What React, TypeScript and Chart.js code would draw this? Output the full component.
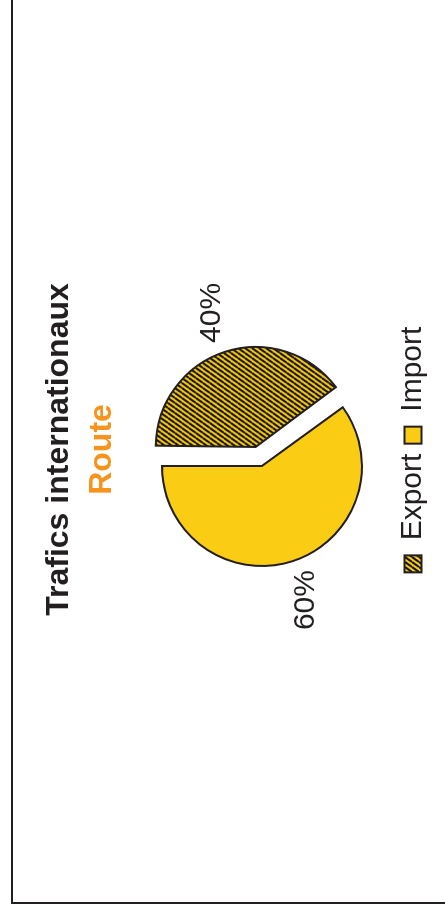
import React, { useEffect, useRef } from "react";
import { Chart, registerables } from "chart.js";

Chart.register(...registerables);

const titleText = "Trafics internationaux";
const subtitleText = "Route";
const categories = ["Export", "Import"];
const values = [40, 60];
const sliceOffsets = [80, 0];

const RADIUS = 100;
const YELLOW = "#FBCC14";
const DARK = "#231f20";
const ORANGE = "#F7941D";
const FONT = "'Liberation Sans', Arial, sans-serif";

function makeHatch(): CanvasPattern | string {
  const a = 5;
  const b = 7;
  const c = document.createElement("canvas");
  c.width = a;
  c.height = b;
  const g = c.getContext("2d");
  if (!g) return YELLOW;
  g.fillStyle = YELLOW;
  g.fillRect(0, 0, a, b);
  g.strokeStyle = "#111111";
  g.lineWidth = 2.1;
  for (let k = -1; k <= 1; k++) {
    g.beginPath();
    g.moveTo(k * a, b);
    g.lineTo(k * a + a, 0);
    g.stroke();
  }
  const p = g.createPattern(c, "repeat");
  return p || YELLOW;
}

// Chart.js enlarges an offset slice's radius; undo that so all slices share one radius.
const keepRadius = {
  id: "keepRadius",
  afterDatasetsUpdate(chart: any) {
    const meta = chart.getDatasetMeta(0);
    meta.data.forEach((arc: any, i: number) => {
      const trans = (sliceOffsets[i] || 0) / 4;
      const circ = arc.circumference || 0;
      const fix = 1 - Math.sin(Math.min(Math.PI, circ));
      arc.outerRadius = RADIUS - trans * fix;
    });
  },
};

const percentLabels = {
  id: "percentLabels",
  afterDatasetsDraw(chart: any) {
    const ctx = chart.ctx;
    const meta = chart.getDatasetMeta(0);
    const ds = chart.data.datasets[0];
    const total = (ds.data as number[]).reduce((s, v) => s + v, 0);
    ctx.save();
    ctx.font = `30px ${FONT}`;
    ctx.fillStyle = DARK;
    ctx.textAlign = "center";
    ctx.textBaseline = "middle";
    meta.data.forEach((arc: any, i: number) => {
      const { x, y, startAngle, endAngle } = arc;
      const trans = (sliceOffsets[i] || 0) / 4;
      const mid = (startAngle + endAngle) / 2;
      const r = trans + RADIUS + 41;
      const txt = Math.round((ds.data[i] / total) * 100) + "%";
      ctx.fillText(txt, x + Math.cos(mid) * r, y + Math.sin(mid) * r);
    });
    ctx.restore();
  },
};

const shiftArea = {
  id: "shiftArea",
  afterLayout(chart: any) {
    chart.chartArea.left -= 16.5;
    chart.chartArea.right -= 16.5;
  },
};

export default function App() {
  const ref = useRef<HTMLCanvasElement | null>(null);

  useEffect(() => {
    if (!ref.current) return;
    const hatch = makeHatch();
    const chart = new Chart(ref.current, {
      type: "pie",
      data: {
        labels: categories,
        datasets: [
          {
            data: values,
            backgroundColor: [hatch as any, YELLOW],
            borderColor: DARK,
            borderWidth: 2,
            borderJoinStyle: "miter",
            offset: sliceOffsets,
          } as any,
        ],
      },
      options: {
        responsive: false,
        animation: false,
        events: [],
        radius: RADIUS,
        layout: { padding: { top: 0, bottom: 15, left: 0, right: 0 } },
        plugins: {
          title: {
            display: true,
            text: titleText,
            color: DARK,
            font: { family: FONT, size: 32, weight: "bold" },
            padding: { top: 27, bottom: 0 },
          },
          subtitle: {
            display: true,
            text: subtitleText,
            color: ORANGE,
            font: { family: FONT, size: 32, weight: "bold" },
            padding: { top: 5, bottom: 14 },
          },
          legend: {
            display: true,
            position: "bottom",
            labels: {
              color: DARK,
              font: { family: FONT, size: 30 },
              boxWidth: 17,
              boxHeight: 17,
              padding: 10,
            },
          },
          tooltip: { enabled: false },
        },
      } as any,
      plugins: [keepRadius, percentLabels, shiftArea],
    });
    return () => chart.destroy();
  }, []);

  return (
    <div
      style={{
        position: "fixed",
        left: 11,
        top: 904,
        width: 960,
        height: 460,
        transformOrigin: "0 0",
        transform: "rotate(-90deg)",
        borderTop: `2px solid ${DARK}`,
        borderLeft: `2px solid ${DARK}`,
        boxSizing: "border-box",
        background: "#fff",
      }}
    >
      <canvas
        ref={ref}
        width={905}
        height={440}
        style={{ position: "absolute", left: 0, top: 0, width: 905, height: 440 }}
      />
    </div>
  );
}
